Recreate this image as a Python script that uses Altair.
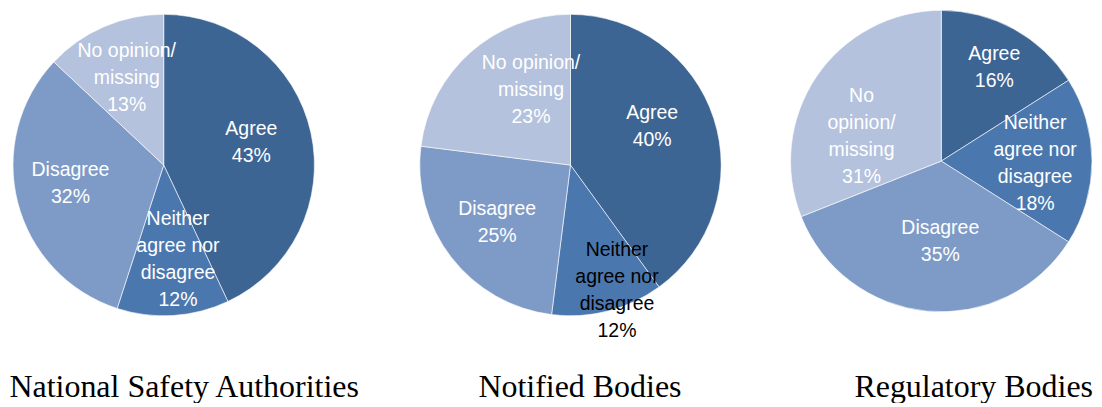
import altair as alt
import pandas as pd

# ---- data ----
groups = ["National Safety Authorities", "Notified Bodies", "Regulatory Bodies"]
categories = ["Agree", "Neither agree nor disagree", "Disagree", "No opinion/ missing"]
nsa_values = [43, 12, 32, 13]
nb_values = [40, 12, 25, 23]
rb_values = [16, 18, 35, 31]
nsa_labels = ["Agree", "Neither\nagree nor\ndisagree", "Disagree", "No opinion/\nmissing"]
nb_labels = ["Agree", "Neither\nagree nor\ndisagree", "Disagree", "No opinion/\nmissing"]
rb_labels = ["Agree", "Neither\nagree nor\ndisagree", "Disagree", "No\nopinion/\nmissing"]

# ---- style ----
colors = ["#3D6594", "#4A77AE", "#7E9BC7", "#B4C2DD"]
OUTER_R = 151
LABEL_R = 93
LINE_H = 27
# label placement tweaks: (angular shift in % of pie, label radius in px)
label_place = {
    ("National Safety Authorities", "Agree"): (-0.75, 91),
    ("National Safety Authorities", "Neither agree nor disagree"): (-1.4, 95),
    ("National Safety Authorities", "Disagree"): (1.1, 95),
    ("National Safety Authorities", "No opinion/ missing"): (0.2, 96),
    ("Notified Bodies", "Agree"): (-2.2, 91),
    ("Notified Bodies", "Neither agree nor disagree"): (-1.7, 133),
    ("Notified Bodies", "No opinion/ missing"): (3.9, 86),
    ("Regulatory Bodies", "Agree"): (0.1, 109),
    ("Regulatory Bodies", "Neither agree nor disagree"): (0.2, 94),
    ("Regulatory Bodies", "Disagree"): (-1.3, 80),
    ("Regulatory Bodies", "No opinion/ missing"): (-4.5, 84),
}
dark_labels = {("Notified Bodies", "Neither agree nor disagree")}
# panel layout: width, pie centre x, pie centre y, title centre x
panels = {
    "National Safety Authorities": (390, 156, 157, 176.5),
    "Notified Bodies": (380, 173.5, 157, 183),
    "Regulatory Bodies": (316, 165, 153, 197.5),
}
HEIGHT = 390
TITLE_BASELINE = 389

values = {groups[0]: nsa_values, groups[1]: nb_values, groups[2]: rb_values}
labels = {groups[0]: nsa_labels, groups[1]: nb_labels, groups[2]: rb_labels}


def make_panel(g):
    w, cx, cy, tx = panels[g]
    texts = [f"{l}\n{v}%" for l, v in zip(labels[g], values[g])]
    df = pd.DataFrame({
        "category": categories,
        "value": values[g],
        "idx": list(range(len(categories))),
        "label": texts,
        "n": [t.count("\n") + 1 for t in texts],
        "shift": [label_place.get((g, c), (0, LABEL_R))[0] for c in categories],
        "r": [label_place.get((g, c), (0, LABEL_R))[1] for c in categories],
        "dark": [1 if (g, c) in dark_labels else 0 for c in categories],
    })
    total = sum(values[g])
    arc = alt.Chart(df).mark_arc(outerRadius=OUTER_R, stroke="white", strokeWidth=0.6).encode(
        theta=alt.Theta("value:Q", stack=True, scale=alt.Scale(domain=[0, total])),
        order=alt.Order("idx:Q", sort="ascending"),
        color=alt.Color("category:N", scale=alt.Scale(domain=categories, range=colors), legend=None),
        x=alt.value(cx),
        y=alt.value(cy),
    )
    tbase = alt.Chart(df).transform_window(
        cum="sum(value)", sort=[alt.SortField("idx")], frame=[None, 0]
    ).transform_calculate(mid="datum.cum - datum.value / 2 + datum.shift")
    layers = [arc]
    for n in sorted(set(df["n"])):
        layers.append(
            tbase.transform_filter(f"datum.n == {n}").mark_text(
                font="Liberation Sans", fontSize=19.5, lineBreak="\n", lineHeight=LINE_H,
                align="center", baseline="middle", dy=-(n - 1) * LINE_H / 2 + 1,
            ).encode(
                theta=alt.Theta("mid:Q", stack=None, scale=alt.Scale(domain=[0, total])),
                radius=alt.Radius("r:Q", scale=None, stack=None),
                text="label:N",
                color=alt.condition("datum.dark == 1", alt.value("black"), alt.value("white")),
                x=alt.value(cx),
                y=alt.value(cy),
            )
        )
    title = alt.Chart(pd.DataFrame({"t": [g]})).mark_text(
        font="Liberation Serif", fontSize=32, align="center", baseline="alphabetic", color="black",
    ).encode(text="t:N", x=alt.value(tx), y=alt.value(TITLE_BASELINE))
    layers.append(title)
    return alt.layer(*layers).properties(width=w, height=HEIGHT)


chart = alt.hconcat(*[make_panel(g) for g in groups], spacing=0).properties(
    padding=0
).configure_view(stroke=None).resolve_scale(theta="independent")

chart.save("out.html", embed_options={"renderer": "svg", "actions": False})
